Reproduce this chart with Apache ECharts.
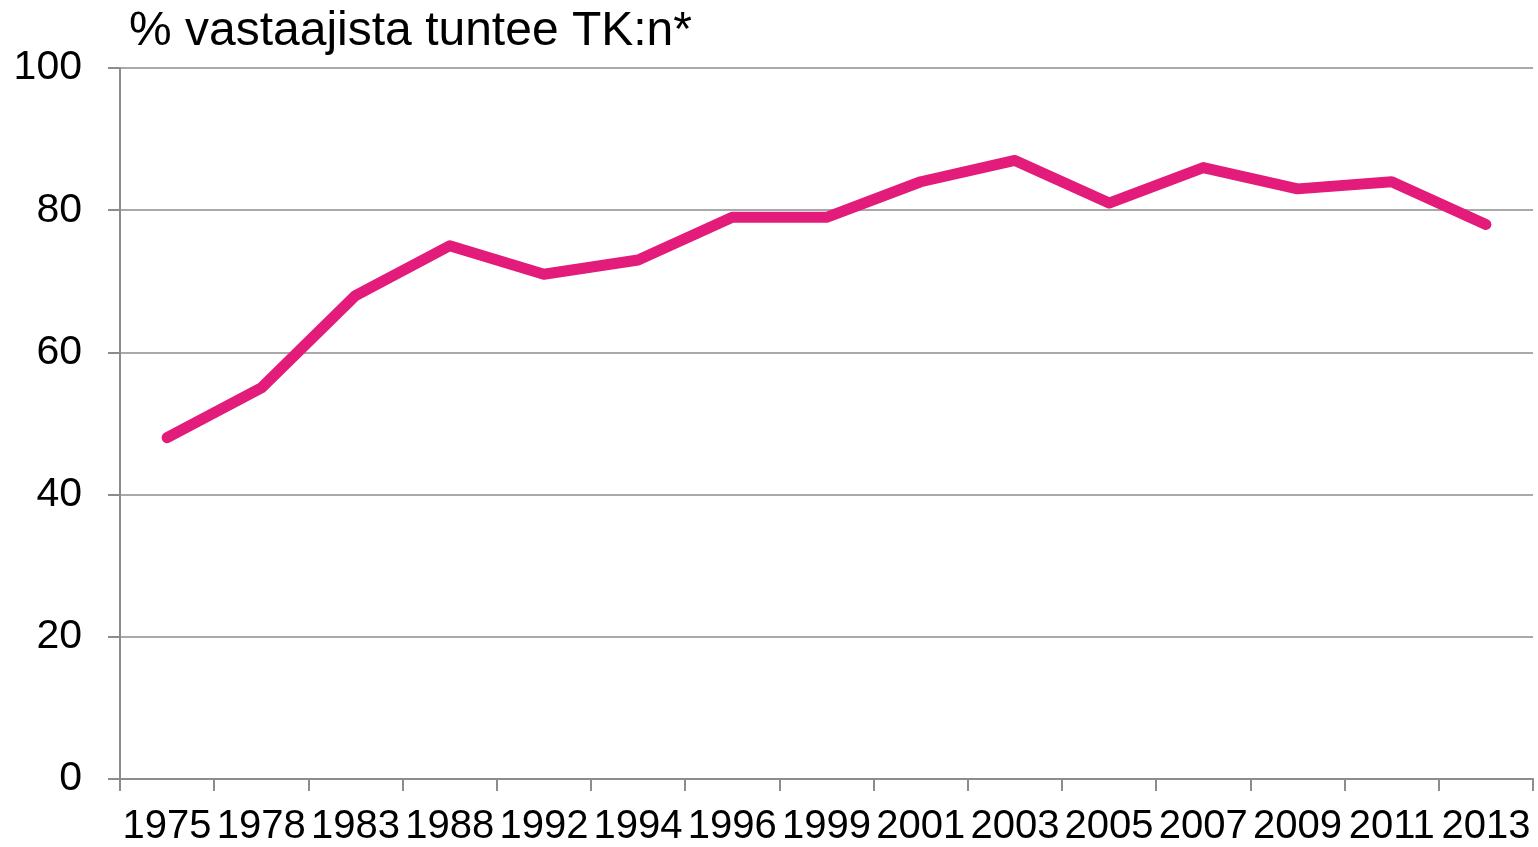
<!DOCTYPE html>
<html>
<head>
<meta charset="utf-8">
<script src="https://cdn.jsdelivr.net/npm/echarts@6/dist/echarts.min.js"></script>
<style>
html,body{margin:0;padding:0;background:#fff;}
#c{width:1538px;height:847px;}
</style>
</head>
<body>
<div id="c"></div>
<script>
var years = ['1975','1978','1983','1988','1992','1994','1996','1999','2001','2003','2005','2007','2009','2011','2013'];
var values = [48,55,68,75,71,73,79,79,84,87,81,86,83,84,78];
var yTicks = [0,20,40,60,80,100];
var titleText = '% vastaajista tuntee TK:n*';

var chart = echarts.init(document.getElementById('c'), null, {renderer:'canvas'});
chart.setOption({
  animation:false,
  backgroundColor:'#fff',
  title:{text:titleText,left:124,top:3,textStyle:{fontFamily:'Liberation Sans, Arial, sans-serif',fontSize:48,fontWeight:'normal',color:'#000'}},
  grid:{left:120,right:5,top:68,bottom:65,containLabel:false},
  xAxis:{
    type:'category',data:years,boundaryGap:true,
    axisLine:{lineStyle:{color:'#8c8c8c',width:2}},
    axisTick:{show:true,length:12,lineStyle:{color:'#8c8c8c',width:2},alignWithLabel:false},
    axisLabel:{color:'#000',fontSize:40,fontFamily:'Liberation Sans, Arial, sans-serif',margin:28,interval:0}
  },
  yAxis:{
    type:'value',min:yTicks[0],max:yTicks[yTicks.length-1],interval:20,
    axisLine:{show:true,lineStyle:{color:'#8c8c8c',width:2}},
    axisTick:{show:true,length:12,lineStyle:{color:'#8c8c8c',width:2}},
    splitLine:{lineStyle:{color:'#8c8c8c',width:1.5}},
    axisLabel:{color:'#000',fontSize:41,fontFamily:'Liberation Sans, Arial, sans-serif',margin:38}
  },
  series:[{
    type:'line',data:values,symbol:'none',
    lineStyle:{color:'#E31B7B',width:11,cap:'round',join:'round'}
  }]
});
</script>
</body>
</html>
